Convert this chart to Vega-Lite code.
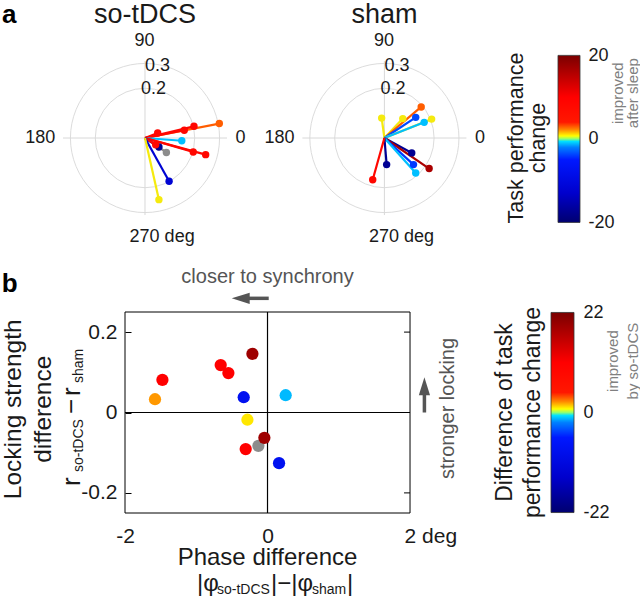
{
  "$schema": "https://vega.github.io/schema/vega-lite/v6.json",
  "padding": {"left": 0, "top": 0, "right": 4, "bottom": 4},
  "autosize": {"type": "pad"},
  "background": "white",
  "bounds": "flush",
  "align": "each",
  "columns": 2,
  "spacing": {"row": 87, "column": 10},
  "config": {"font": "Liberation Sans", "view": {"stroke": null}},
  "datasets": {
    "grid": [{"r": 0.2}, {"r": 0.3}],
    "polarLabels": [
      {"t": "90", "lx": -0.042, "ly": 0.391},
      {"t": "0.3", "lx": 0.0, "ly": 0.291},
      {"t": "0.2", "lx": -0.016, "ly": 0.198},
      {"t": "180", "lx": -0.482, "ly": 0.0},
      {"t": "0", "lx": 0.364, "ly": 0.0},
      {"t": "270 deg", "lx": -0.062, "ly": -0.397}
    ],
    "sotdcs": [
      {"x": 0.299, "y": 0.058, "v": 3.2},
      {"x": 0.197, "y": 0.047, "v": 9},
      {"x": 0.158, "y": 0.031, "v": 9},
      {"x": 0.051, "y": 0.020, "v": 9},
      {"x": 0.148, "y": -0.011, "v": -1.2},
      {"x": 0.194, "y": -0.056, "v": 9},
      {"x": 0.244, "y": -0.067, "v": 9},
      {"x": 0.086, "y": -0.058, "v": null},
      {"x": 0.056, "y": -0.036, "v": -19},
      {"x": 0.043, "y": -0.027, "v": 9},
      {"x": 0.097, "y": -0.174, "v": -13},
      {"x": 0.056, "y": -0.248, "v": 1}
    ],
    "sham": [
      {"x": -0.011, "y": 0.080, "v": 1},
      {"x": 0.074, "y": 0.078, "v": 1},
      {"x": 0.148, "y": 0.125, "v": 3.2},
      {"x": 0.126, "y": 0.083, "v": -4},
      {"x": 0.190, "y": 0.076, "v": 1},
      {"x": 0.160, "y": 0.063, "v": -1.2},
      {"x": 0.110, "y": -0.060, "v": -19},
      {"x": 0.180, "y": -0.123, "v": 18},
      {"x": 0.117, "y": -0.107, "v": -4.5},
      {"x": 0.126, "y": -0.141, "v": -1.2},
      {"x": 0.009, "y": -0.107, "v": -19},
      {"x": -0.047, "y": -0.168, "v": 9}
    ],
    "diff": [
      {"x": -1.475, "y": 0.081, "v": 11},
      {"x": -1.579, "y": 0.033, "v": 2.2},
      {"x": -0.657, "y": 0.118, "v": 11},
      {"x": -0.549, "y": 0.098, "v": 11},
      {"x": -0.212, "y": 0.146, "v": 19},
      {"x": -0.334, "y": 0.038, "v": -8},
      {"x": 0.255, "y": 0.043, "v": -1.3},
      {"x": -0.282, "y": -0.018, "v": 1.1},
      {"x": -0.306, "y": -0.091, "v": 11},
      {"x": -0.128, "y": -0.083, "v": null},
      {"x": -0.044, "y": -0.063, "v": 19},
      {"x": 0.162, "y": -0.126, "v": -8}
    ],
    "rightTicks": [{"t": -0.2}, {"t": 0.2}],
    "cb1": [{"lo": -20, "hi": 20}],
    "cb2": [{"lo": -22, "hi": 22}]
  },
  "concat": [
    {
      "width": 482.7, "height": 174,
      "resolve": {"scale": {"x": "independent"}},
      "layer": [
        {
          "layer": [
            {"data": {"name": "grid"}, "mark": {"type": "point", "filled": false, "color": "#dcdcdc", "strokeWidth": 1, "opacity": 1},
             "encoding": {"x": {"datum": 0, "type": "quantitative", "scale": {"domain": [-0.35, 1.5919], "nice": false, "zero": false}, "axis": null},
                          "y": {"datum": 0, "type": "quantitative", "scale": {"domain": [-0.35, 0.35], "nice": false, "zero": false}, "axis": null},
                          "size": {"field": "r", "type": "quantitative", "scale": {"type": "pow", "exponent": 2, "domain": [0, 0.3], "range": [0, 22240], "zero": true}, "legend": null}}},
            {"data": {"values": [{}]}, "mark": {"type": "rule", "color": "#d8d8d8", "strokeWidth": 1},
             "encoding": {"x": {"datum": -0.33, "type": "quantitative", "scale": {"domain": [-0.35, 1.5919], "nice": false, "zero": false}, "axis": null}, "x2": {"datum": 0.33},
                          "y": {"datum": 0, "type": "quantitative", "scale": {"domain": [-0.35, 0.35], "nice": false, "zero": false}, "axis": null}}},
            {"data": {"values": [{}]}, "mark": {"type": "rule", "color": "#d8d8d8", "strokeWidth": 1},
             "encoding": {"x": {"datum": 0, "type": "quantitative", "scale": {"domain": [-0.35, 1.5919], "nice": false, "zero": false}, "axis": null},
                          "y": {"datum": -0.31, "type": "quantitative", "scale": {"domain": [-0.35, 0.35], "nice": false, "zero": false}, "axis": null}, "y2": {"datum": 0.31}}},
            {"data": {"name": "sotdcs"}, "mark": {"type": "rule", "strokeWidth": 2.2, "invalid": "show"},
             "encoding": {"x": {"field": "x", "type": "quantitative", "scale": {"domain": [-0.35, 1.5919], "nice": false, "zero": false}, "axis": null},
                          "y": {"field": "y", "type": "quantitative", "scale": {"domain": [-0.35, 0.35], "nice": false, "zero": false}, "axis": null},
                          "x2": {"datum": 0}, "y2": {"datum": 0},
                          "color": {"field": "v", "type": "quantitative", "legend": null, "condition": {"test": "datum.v === null", "value": "#8c8c8c"},
                                    "scale": {"domain": [-20,-19,-18,-17,-16,-15,-14,-13,-12,-11,-10,-9,-8,-7,-6,-5,-4,-3,-2,-1,0,1,2,3,4,5,6,7,8,9,10,11,12,13,14,15,16,17,18,19,20],
                                              "range": ["#000070","#00007d","#00008a","#000097","#0000a5","#0000b2","#0000bf","#0000cc","#0003d2","#0006d9","#0009df","#000ce6","#000fec","#0012f2","#0015f9","#0018ff","#003bff","#005dff","#0080ff","#00c5ff","#90ff70","#ffe700","#ff9800","#ff5600","#ff1800","#ff1400","#ff1000","#ff0c00","#ff0800","#ff0400","#ff0000","#f20000","#e40000","#d70000","#ca0000","#bc0000","#af0000","#a20000","#950000","#870000","#7a0000"]}}}},
            {"data": {"name": "sotdcs"}, "mark": {"type": "point", "filled": true, "opacity": 1, "size": 55, "invalid": "show"},
             "encoding": {"x": {"field": "x", "type": "quantitative", "scale": {"domain": [-0.35, 1.5919], "nice": false, "zero": false}, "axis": null},
                          "y": {"field": "y", "type": "quantitative", "scale": {"domain": [-0.35, 0.35], "nice": false, "zero": false}, "axis": null},
                          "color": {"field": "v", "type": "quantitative", "legend": null, "condition": {"test": "datum.v === null", "value": "#8c8c8c"},
                                    "scale": {"domain": [-20,-19,-18,-17,-16,-15,-14,-13,-12,-11,-10,-9,-8,-7,-6,-5,-4,-3,-2,-1,0,1,2,3,4,5,6,7,8,9,10,11,12,13,14,15,16,17,18,19,20],
                                              "range": ["#000070","#00007d","#00008a","#000097","#0000a5","#0000b2","#0000bf","#0000cc","#0003d2","#0006d9","#0009df","#000ce6","#000fec","#0012f2","#0015f9","#0018ff","#003bff","#005dff","#0080ff","#00c5ff","#90ff70","#ffe700","#ff9800","#ff5600","#ff1800","#ff1400","#ff1000","#ff0c00","#ff0800","#ff0400","#ff0000","#f20000","#e40000","#d70000","#ca0000","#bc0000","#af0000","#a20000","#950000","#870000","#7a0000"]}}}},
            {"data": {"name": "polarLabels"}, "mark": {"type": "text", "align": "left", "baseline": "middle", "fontSize": 18, "color": "#1a1a1a"},
             "encoding": {"x": {"field": "lx", "type": "quantitative", "scale": {"domain": [-0.35, 1.5919], "nice": false, "zero": false}, "axis": null},
                          "y": {"field": "ly", "type": "quantitative", "scale": {"domain": [-0.35, 0.35], "nice": false, "zero": false}, "axis": null},
                          "text": {"field": "t"}}},
            {"data": {"values": [{}]}, "mark": {"type": "text", "text": "so-tDCS", "align": "center", "baseline": "middle", "fontSize": 27, "color": "#1a1a1a"},
             "encoding": {"x": {"datum": 0, "type": "quantitative", "scale": {"domain": [-0.35, 1.5919], "nice": false, "zero": false}, "axis": null},
                          "y": {"datum": 0.496, "type": "quantitative", "scale": {"domain": [-0.35, 0.35], "nice": false, "zero": false}, "axis": null}}},
            {"data": {"values": [{}]}, "mark": {"type": "text", "text": "a", "align": "center", "baseline": "middle", "fontSize": 26, "fontWeight": "bold", "color": "#000"},
             "encoding": {"x": {"datum": -0.546, "type": "quantitative", "scale": {"domain": [-0.35, 1.5919], "nice": false, "zero": false}, "axis": null},
                          "y": {"datum": 0.494, "type": "quantitative", "scale": {"domain": [-0.35, 0.35], "nice": false, "zero": false}, "axis": null}}}
          ]
        },
        {
          "layer": [
            {"data": {"name": "grid"}, "mark": {"type": "point", "filled": false, "color": "#dcdcdc", "strokeWidth": 1, "opacity": 1},
             "encoding": {"x": {"datum": 0, "type": "quantitative", "scale": {"domain": [-1.3131, 0.6288], "nice": false, "zero": false}, "axis": null},
                          "y": {"datum": 0, "type": "quantitative", "scale": {"domain": [-0.35, 0.35], "nice": false, "zero": false}, "axis": null},
                          "size": {"field": "r", "type": "quantitative", "scale": {"type": "pow", "exponent": 2, "domain": [0, 0.3], "range": [0, 22240], "zero": true}, "legend": null}}},
            {"data": {"values": [{}]}, "mark": {"type": "rule", "color": "#d8d8d8", "strokeWidth": 1},
             "encoding": {"x": {"datum": -0.33, "type": "quantitative", "scale": {"domain": [-1.3131, 0.6288], "nice": false, "zero": false}, "axis": null}, "x2": {"datum": 0.33},
                          "y": {"datum": 0, "type": "quantitative", "scale": {"domain": [-0.35, 0.35], "nice": false, "zero": false}, "axis": null}}},
            {"data": {"values": [{}]}, "mark": {"type": "rule", "color": "#d8d8d8", "strokeWidth": 1},
             "encoding": {"x": {"datum": 0, "type": "quantitative", "scale": {"domain": [-1.3131, 0.6288], "nice": false, "zero": false}, "axis": null},
                          "y": {"datum": -0.31, "type": "quantitative", "scale": {"domain": [-0.35, 0.35], "nice": false, "zero": false}, "axis": null}, "y2": {"datum": 0.31}}},
            {"data": {"name": "sham"}, "mark": {"type": "rule", "strokeWidth": 2.2, "invalid": "show"},
             "encoding": {"x": {"field": "x", "type": "quantitative", "scale": {"domain": [-1.3131, 0.6288], "nice": false, "zero": false}, "axis": null},
                          "y": {"field": "y", "type": "quantitative", "scale": {"domain": [-0.35, 0.35], "nice": false, "zero": false}, "axis": null},
                          "x2": {"datum": 0}, "y2": {"datum": 0},
                          "color": {"field": "v", "type": "quantitative", "legend": null, "condition": {"test": "datum.v === null", "value": "#8c8c8c"},
                                    "scale": {"domain": [-20,-19,-18,-17,-16,-15,-14,-13,-12,-11,-10,-9,-8,-7,-6,-5,-4,-3,-2,-1,0,1,2,3,4,5,6,7,8,9,10,11,12,13,14,15,16,17,18,19,20],
                                              "range": ["#000070","#00007d","#00008a","#000097","#0000a5","#0000b2","#0000bf","#0000cc","#0003d2","#0006d9","#0009df","#000ce6","#000fec","#0012f2","#0015f9","#0018ff","#003bff","#005dff","#0080ff","#00c5ff","#90ff70","#ffe700","#ff9800","#ff5600","#ff1800","#ff1400","#ff1000","#ff0c00","#ff0800","#ff0400","#ff0000","#f20000","#e40000","#d70000","#ca0000","#bc0000","#af0000","#a20000","#950000","#870000","#7a0000"]}}}},
            {"data": {"name": "sham"}, "mark": {"type": "point", "filled": true, "opacity": 1, "size": 55, "invalid": "show"},
             "encoding": {"x": {"field": "x", "type": "quantitative", "scale": {"domain": [-1.3131, 0.6288], "nice": false, "zero": false}, "axis": null},
                          "y": {"field": "y", "type": "quantitative", "scale": {"domain": [-0.35, 0.35], "nice": false, "zero": false}, "axis": null},
                          "color": {"field": "v", "type": "quantitative", "legend": null, "condition": {"test": "datum.v === null", "value": "#8c8c8c"},
                                    "scale": {"domain": [-20,-19,-18,-17,-16,-15,-14,-13,-12,-11,-10,-9,-8,-7,-6,-5,-4,-3,-2,-1,0,1,2,3,4,5,6,7,8,9,10,11,12,13,14,15,16,17,18,19,20],
                                              "range": ["#000070","#00007d","#00008a","#000097","#0000a5","#0000b2","#0000bf","#0000cc","#0003d2","#0006d9","#0009df","#000ce6","#000fec","#0012f2","#0015f9","#0018ff","#003bff","#005dff","#0080ff","#00c5ff","#90ff70","#ffe700","#ff9800","#ff5600","#ff1800","#ff1400","#ff1000","#ff0c00","#ff0800","#ff0400","#ff0000","#f20000","#e40000","#d70000","#ca0000","#bc0000","#af0000","#a20000","#950000","#870000","#7a0000"]}}}},
            {"data": {"name": "polarLabels"}, "mark": {"type": "text", "align": "left", "baseline": "middle", "fontSize": 18, "color": "#1a1a1a"},
             "encoding": {"x": {"field": "lx", "type": "quantitative", "scale": {"domain": [-1.3131, 0.6288], "nice": false, "zero": false}, "axis": null},
                          "y": {"field": "ly", "type": "quantitative", "scale": {"domain": [-0.35, 0.35], "nice": false, "zero": false}, "axis": null},
                          "text": {"field": "t"}}},
            {"data": {"values": [{}]}, "mark": {"type": "text", "text": "sham", "align": "center", "baseline": "middle", "fontSize": 27, "color": "#1a1a1a"},
             "encoding": {"x": {"datum": 0, "type": "quantitative", "scale": {"domain": [-1.3131, 0.6288], "nice": false, "zero": false}, "axis": null},
                          "y": {"datum": 0.496, "type": "quantitative", "scale": {"domain": [-0.35, 0.35], "nice": false, "zero": false}, "axis": null}}}
          ]
        }
      ]
    },
    {
      "width": 29, "height": 174,
      "resolve": {"axis": {"y": "independent"}},
      "layer": [
        {"data": {"name": "cb1"},
         "mark": {"type": "rect", "stroke": "#333", "strokeWidth": 0.8,
                  "fill": {"gradient": "linear", "x1": 0, "y1": 1, "x2": 0, "y2": 0, "stops": [
                    {"offset": 0, "color": "#000070"}, {"offset": 0.175, "color": "#0000cc"}, {"offset": 0.375, "color": "#0018ff"}, {"offset": 0.45, "color": "#0080ff"},
                    {"offset": 0.485, "color": "#00e0ff"}, {"offset": 0.5, "color": "#90ff70"}, {"offset": 0.5175, "color": "#ffff00"}, {"offset": 0.555, "color": "#ff8800"},
                    {"offset": 0.6, "color": "#ff1800"}, {"offset": 0.75, "color": "#ff0000"}, {"offset": 1, "color": "#7a0000"}]}},
         "encoding": {"x": {"datum": 0, "type": "quantitative", "scale": {"domain": [-0.318, 1], "nice": false, "zero": false}, "axis": null}, "x2": {"datum": 1},
                      "y": {"field": "lo", "type": "quantitative", "scale": {"domain": [-20.62, 21.05], "nice": false, "zero": false},
                            "axis": {"orient": "right", "values": [-20, 0, 20], "domain": false, "ticks": false, "grid": false, "title": null, "labelFontSize": 18, "labelPadding": 8, "labelColor": "#1a1a1a",
                                     "labelExpr": "datum.value < 0 ? '-' + abs(datum.value) : '' + datum.value"}},
                      "y2": {"field": "hi"}}},
        {"data": {"values": [{}]}, "mark": {"type": "text", "text": "Task performance", "angle": 270, "align": "center", "baseline": "middle", "fontSize": 21.5, "color": "#1a1a1a"},
         "encoding": {"x": {"datum": -1.86, "type": "quantitative", "scale": {"domain": [-0.318, 1], "nice": false, "zero": false}, "axis": null},
                      "y": {"datum": 0.2, "type": "quantitative", "scale": {"domain": [-20.62, 21.05], "nice": false, "zero": false}, "axis": null}}},
        {"data": {"values": [{}]}, "mark": {"type": "text", "text": "change", "angle": 270, "align": "center", "baseline": "middle", "fontSize": 21.5, "color": "#1a1a1a"},
         "encoding": {"x": {"datum": -0.86, "type": "quantitative", "scale": {"domain": [-0.318, 1], "nice": false, "zero": false}, "axis": null},
                      "y": {"datum": 0.2, "type": "quantitative", "scale": {"domain": [-20.62, 21.05], "nice": false, "zero": false}, "axis": null}}},
        {"data": {"values": [{}]}, "mark": {"type": "text", "text": "improved", "angle": 270, "align": "center", "baseline": "middle", "fontSize": 15, "color": "#808080"},
         "encoding": {"x": {"datum": 2.73, "type": "quantitative", "scale": {"domain": [-0.318, 1], "nice": false, "zero": false}, "axis": null},
                      "y": {"datum": 10.95, "type": "quantitative", "scale": {"domain": [-20.62, 21.05], "nice": false, "zero": false}, "axis": null}}},
        {"data": {"values": [{}]}, "mark": {"type": "text", "text": "after sleep", "angle": 270, "align": "center", "baseline": "middle", "fontSize": 15, "color": "#808080"},
         "encoding": {"x": {"datum": 3.41, "type": "quantitative", "scale": {"domain": [-0.318, 1], "nice": false, "zero": false}, "axis": null},
                      "y": {"datum": 10.95, "type": "quantitative", "scale": {"domain": [-20.62, 21.05], "nice": false, "zero": false}, "axis": null}}}
      ]
    },
    {
      "width": 482.7, "height": 201,
      "resolve": {"axis": {"x": "independent", "y": "independent"}},
      "layer": [
        {"data": {"values": [{}]}, "mark": {"type": "rect", "filled": false, "color": "#000", "strokeWidth": 1},
         "encoding": {"x": {"datum": -2, "type": "quantitative", "scale": {"domain": [-2.9403, 3.834], "nice": false, "zero": false}, "axis": null}, "x2": {"datum": 2},
                      "y": {"datum": -0.25, "type": "quantitative", "scale": {"domain": [-0.25, 0.25], "nice": false, "zero": false}, "axis": null}, "y2": {"datum": 0.25}}},
        {"data": {"values": [{}]}, "mark": {"type": "rule", "color": "#000", "strokeWidth": 1.2},
         "encoding": {"x": {"datum": 0, "type": "quantitative", "scale": {"domain": [-2.9403, 3.834], "nice": false, "zero": false}, "axis": null},
                      "y": {"datum": -0.25, "type": "quantitative", "scale": {"domain": [-0.25, 0.25], "nice": false, "zero": false}, "axis": null}, "y2": {"datum": 0.25}}},
        {"data": {"values": [{}]}, "mark": {"type": "rule", "color": "#000", "strokeWidth": 1.2},
         "encoding": {"x": {"datum": -2, "type": "quantitative", "scale": {"domain": [-2.9403, 3.834], "nice": false, "zero": false}, "axis": null}, "x2": {"datum": 2},
                      "y": {"datum": 0, "type": "quantitative", "scale": {"domain": [-0.25, 0.25], "nice": false, "zero": false}, "axis": null}}},
        {"data": {"name": "rightTicks"}, "mark": {"type": "rule", "color": "#000", "strokeWidth": 1},
         "encoding": {"x": {"datum": 1.916, "type": "quantitative", "scale": {"domain": [-2.9403, 3.834], "nice": false, "zero": false}, "axis": null}, "x2": {"datum": 2},
                      "y": {"field": "t", "type": "quantitative", "scale": {"domain": [-0.25, 0.25], "nice": false, "zero": false}, "axis": null}}},
        {"data": {"name": "diff"}, "mark": {"type": "point", "filled": true, "opacity": 1, "size": 150, "invalid": "show"},
         "encoding": {"x": {"field": "x", "type": "quantitative", "scale": {"domain": [-2.9403, 3.834], "nice": false, "zero": false},
                            "axis": {"values": [-2, 0, 2], "domain": false, "ticks": false, "grid": false, "title": null, "labelFontSize": 21, "labelPadding": 12, "labelColor": "#1a1a1a", "labelFlush": false,
                                     "labelExpr": "datum.value == 2 ? '2 deg' : datum.value == -2 ? '-2' : '0'",
                                     "labelAlign": {"condition": {"test": "datum.value == 2", "value": "left"}, "value": "center"},
                                     "labelOffset": {"condition": {"test": "datum.value == 2", "value": -6}, "value": 0}}},
                      "y": {"field": "y", "type": "quantitative", "scale": {"domain": [-0.25, 0.25], "nice": false, "zero": false},
                            "axis": {"values": [-0.2, 0, 0.2], "offset": -67, "domain": false, "tickSize": -6, "tickColor": "#000", "grid": false, "title": null, "labelFontSize": 21, "labelPadding": 14, "labelColor": "#1a1a1a",
                                     "labelExpr": "datum.value == -0.2 ? '-0.2' : datum.value == 0 ? '0' : '0.2'"}},
                      "color": {"field": "v", "type": "quantitative", "legend": null, "condition": {"test": "datum.v === null", "value": "#8c8c8c"},
                                "scale": {"domain": [-22,-20.9,-19.8,-18.7,-17.6,-16.5,-15.4,-14.3,-13.2,-12.1,-11,-9.9,-8.8,-7.7,-6.6,-5.5,-4.4,-3.3,-2.2,-1.1,0,1.1,2.2,3.3,4.4,5.5,6.6,7.7,8.8,9.9,11,12.1,13.2,14.3,15.4,16.5,17.6,18.7,19.8,20.9,22],
                                          "range": ["#000070","#00007d","#00008a","#000097","#0000a5","#0000b2","#0000bf","#0000cc","#0003d2","#0006d9","#0009df","#000ce6","#000fec","#0012f2","#0015f9","#0018ff","#003bff","#005dff","#0080ff","#00c5ff","#90ff70","#ffe700","#ff9800","#ff5600","#ff1800","#ff1400","#ff1000","#ff0c00","#ff0800","#ff0400","#ff0000","#f20000","#e40000","#d70000","#ca0000","#bc0000","#af0000","#a20000","#950000","#870000","#7a0000"]}}}},
        {"data": {"values": [{}]}, "mark": {"type": "rule", "color": "#555", "strokeWidth": 3.5},
         "encoding": {"x": {"datum": -0.30, "type": "quantitative", "scale": {"domain": [-2.9403, 3.834], "nice": false, "zero": false}, "axis": null}, "x2": {"datum": 0.017},
                      "y": {"datum": 0.284, "type": "quantitative", "scale": {"domain": [-0.25, 0.25], "nice": false, "zero": false}, "axis": null}}},
        {"data": {"values": [{}]}, "mark": {"type": "point", "shape": "M -1 0 L 1 -0.62 L 1 0.62 Z", "filled": true, "color": "#555", "size": 324, "opacity": 1},
         "encoding": {"x": {"datum": -0.376, "type": "quantitative", "scale": {"domain": [-2.9403, 3.834], "nice": false, "zero": false}, "axis": null},
                      "y": {"datum": 0.284, "type": "quantitative", "scale": {"domain": [-0.25, 0.25], "nice": false, "zero": false}, "axis": null}}},
        {"data": {"values": [{}]}, "mark": {"type": "rule", "color": "#555", "strokeWidth": 3.5},
         "encoding": {"x": {"datum": 2.202, "type": "quantitative", "scale": {"domain": [-2.9403, 3.834], "nice": false, "zero": false}, "axis": null},
                      "y": {"datum": 0.0, "type": "quantitative", "scale": {"domain": [-0.25, 0.25], "nice": false, "zero": false}, "axis": null}, "y2": {"datum": 0.055}}},
        {"data": {"values": [{}]}, "mark": {"type": "point", "shape": "M 0 -1 L -0.62 1 L 0.62 1 Z", "filled": true, "color": "#555", "size": 324, "opacity": 1},
         "encoding": {"x": {"datum": 2.202, "type": "quantitative", "scale": {"domain": [-2.9403, 3.834], "nice": false, "zero": false}, "axis": null},
                      "y": {"datum": 0.065, "type": "quantitative", "scale": {"domain": [-0.25, 0.25], "nice": false, "zero": false}, "axis": null}}},
        {"data": {"values": [{}]}, "mark": {"type": "text", "text": "closer to synchrony", "align": "center", "baseline": "middle", "fontSize": 20, "color": "#555"},
         "encoding": {"x": {"datum": 0, "type": "quantitative", "scale": {"domain": [-2.9403, 3.834], "nice": false, "zero": false}, "axis": null},
                      "y": {"datum": 0.337, "type": "quantitative", "scale": {"domain": [-0.25, 0.25], "nice": false, "zero": false}, "axis": null}}},
        {"data": {"values": [{}]}, "mark": {"type": "text", "text": "stronger locking", "angle": 270, "align": "center", "baseline": "middle", "fontSize": 20, "color": "#555"},
         "encoding": {"x": {"datum": 2.53, "type": "quantitative", "scale": {"domain": [-2.9403, 3.834], "nice": false, "zero": false}, "axis": null},
                      "y": {"datum": 0.01, "type": "quantitative", "scale": {"domain": [-0.25, 0.25], "nice": false, "zero": false}, "axis": null}}},
        {"data": {"values": [{}]}, "mark": {"type": "text", "text": "b", "align": "center", "baseline": "middle", "fontSize": 26, "fontWeight": "bold", "color": "#000"},
         "encoding": {"x": {"datum": -3.618, "type": "quantitative", "scale": {"domain": [-2.9403, 3.834], "nice": false, "zero": false}, "axis": null},
                      "y": {"datum": 0.319, "type": "quantitative", "scale": {"domain": [-0.25, 0.25], "nice": false, "zero": false}, "axis": null}}},
        {"data": {"values": [{}]}, "mark": {"type": "text", "text": "Locking strength", "angle": 270, "align": "center", "baseline": "middle", "fontSize": 24.5, "color": "#1a1a1a"},
         "encoding": {"x": {"datum": -3.562, "type": "quantitative", "scale": {"domain": [-2.9403, 3.834], "nice": false, "zero": false}, "axis": null},
                      "y": {"datum": 0.008, "type": "quantitative", "scale": {"domain": [-0.25, 0.25], "nice": false, "zero": false}, "axis": null}}},
        {"data": {"values": [{}]}, "mark": {"type": "text", "text": "difference", "angle": 270, "align": "center", "baseline": "middle", "fontSize": 24.5, "color": "#1a1a1a"},
         "encoding": {"x": {"datum": -3.141, "type": "quantitative", "scale": {"domain": [-2.9403, 3.834], "nice": false, "zero": false}, "axis": null},
                      "y": {"datum": 0.008, "type": "quantitative", "scale": {"domain": [-0.25, 0.25], "nice": false, "zero": false}, "axis": null}}},
        {"data": {"values": [{}]}, "mark": {"type": "text", "text": "r", "angle": 270, "align": "left", "baseline": "alphabetic", "fontSize": 26, "color": "#1a1a1a", "dx": 0},
         "encoding": {"x": {"datum": -2.636, "type": "quantitative", "scale": {"domain": [-2.9403, 3.834], "nice": false, "zero": false}, "axis": null},
                      "y": {"datum": -0.183, "type": "quantitative", "scale": {"domain": [-0.25, 0.25], "nice": false, "zero": false}, "axis": null}}},
        {"data": {"values": [{}]}, "mark": {"type": "text", "text": "so-tDCS", "angle": 270, "align": "left", "baseline": "alphabetic", "fontSize": 14, "color": "#1a1a1a", "dx": 14, "dy": 3},
         "encoding": {"x": {"datum": -2.636, "type": "quantitative", "scale": {"domain": [-2.9403, 3.834], "nice": false, "zero": false}, "axis": null},
                      "y": {"datum": -0.183, "type": "quantitative", "scale": {"domain": [-0.25, 0.25], "nice": false, "zero": false}, "axis": null}}},
        {"data": {"values": [{}]}, "mark": {"type": "text", "text": "−", "angle": 270, "align": "left", "baseline": "alphabetic", "fontSize": 26, "color": "#1a1a1a", "dx": 72},
         "encoding": {"x": {"datum": -2.636, "type": "quantitative", "scale": {"domain": [-2.9403, 3.834], "nice": false, "zero": false}, "axis": null},
                      "y": {"datum": -0.183, "type": "quantitative", "scale": {"domain": [-0.25, 0.25], "nice": false, "zero": false}, "axis": null}}},
        {"data": {"values": [{}]}, "mark": {"type": "text", "text": "r", "angle": 270, "align": "left", "baseline": "alphabetic", "fontSize": 26, "color": "#1a1a1a", "dx": 90},
         "encoding": {"x": {"datum": -2.636, "type": "quantitative", "scale": {"domain": [-2.9403, 3.834], "nice": false, "zero": false}, "axis": null},
                      "y": {"datum": -0.183, "type": "quantitative", "scale": {"domain": [-0.25, 0.25], "nice": false, "zero": false}, "axis": null}}},
        {"data": {"values": [{}]}, "mark": {"type": "text", "text": "sham", "angle": 270, "align": "left", "baseline": "alphabetic", "fontSize": 14, "color": "#1a1a1a", "dx": 103, "dy": 3},
         "encoding": {"x": {"datum": -2.636, "type": "quantitative", "scale": {"domain": [-2.9403, 3.834], "nice": false, "zero": false}, "axis": null},
                      "y": {"datum": -0.183, "type": "quantitative", "scale": {"domain": [-0.25, 0.25], "nice": false, "zero": false}, "axis": null}}},
        {"data": {"values": [{}]}, "mark": {"type": "text", "text": "Phase difference", "align": "center", "baseline": "alphabetic", "fontSize": 24, "color": "#1a1a1a"},
         "encoding": {"x": {"datum": 0, "type": "quantitative", "scale": {"domain": [-2.9403, 3.834], "nice": false, "zero": false}, "axis": null},
                      "y": {"datum": -0.38, "type": "quantitative", "scale": {"domain": [-0.25, 0.25], "nice": false, "zero": false}, "axis": null}}},
        {"data": {"values": [{}]}, "mark": {"type": "text", "text": "|φ", "align": "left", "baseline": "alphabetic", "fontSize": 24, "color": "#1a1a1a", "dx": 0},
         "encoding": {"x": {"datum": -0.99, "type": "quantitative", "scale": {"domain": [-2.9403, 3.834], "nice": false, "zero": false}, "axis": null},
                      "y": {"datum": -0.4445, "type": "quantitative", "scale": {"domain": [-0.25, 0.25], "nice": false, "zero": false}, "axis": null}}},
        {"data": {"values": [{}]}, "mark": {"type": "text", "text": "so-tDCS", "align": "left", "baseline": "alphabetic", "fontSize": 14, "color": "#1a1a1a", "dx": 20, "dy": 3},
         "encoding": {"x": {"datum": -0.99, "type": "quantitative", "scale": {"domain": [-2.9403, 3.834], "nice": false, "zero": false}, "axis": null},
                      "y": {"datum": -0.4445, "type": "quantitative", "scale": {"domain": [-0.25, 0.25], "nice": false, "zero": false}, "axis": null}}},
        {"data": {"values": [{}]}, "mark": {"type": "text", "text": "|−|φ", "align": "left", "baseline": "alphabetic", "fontSize": 24, "color": "#1a1a1a", "dx": 74},
         "encoding": {"x": {"datum": -0.99, "type": "quantitative", "scale": {"domain": [-2.9403, 3.834], "nice": false, "zero": false}, "axis": null},
                      "y": {"datum": -0.4445, "type": "quantitative", "scale": {"domain": [-0.25, 0.25], "nice": false, "zero": false}, "axis": null}}},
        {"data": {"values": [{}]}, "mark": {"type": "text", "text": "sham", "align": "left", "baseline": "alphabetic", "fontSize": 14, "color": "#1a1a1a", "dx": 115, "dy": 3},
         "encoding": {"x": {"datum": -0.99, "type": "quantitative", "scale": {"domain": [-2.9403, 3.834], "nice": false, "zero": false}, "axis": null},
                      "y": {"datum": -0.4445, "type": "quantitative", "scale": {"domain": [-0.25, 0.25], "nice": false, "zero": false}, "axis": null}}},
        {"data": {"values": [{}]}, "mark": {"type": "text", "text": "|", "align": "left", "baseline": "alphabetic", "fontSize": 24, "color": "#1a1a1a", "dx": 150},
         "encoding": {"x": {"datum": -0.99, "type": "quantitative", "scale": {"domain": [-2.9403, 3.834], "nice": false, "zero": false}, "axis": null},
                      "y": {"datum": -0.4445, "type": "quantitative", "scale": {"domain": [-0.25, 0.25], "nice": false, "zero": false}, "axis": null}}}
      ]
    },
    {
      "width": 23, "height": 201,
      "resolve": {"axis": {"y": "independent"}},
      "layer": [
        {"data": {"name": "cb2"},
         "mark": {"type": "rect", "stroke": "#333", "strokeWidth": 0.8,
                  "fill": {"gradient": "linear", "x1": 0, "y1": 1, "x2": 0, "y2": 0, "stops": [
                    {"offset": 0, "color": "#000070"}, {"offset": 0.175, "color": "#0000cc"}, {"offset": 0.375, "color": "#0018ff"}, {"offset": 0.45, "color": "#0080ff"},
                    {"offset": 0.485, "color": "#00e0ff"}, {"offset": 0.5, "color": "#90ff70"}, {"offset": 0.5175, "color": "#ffff00"}, {"offset": 0.555, "color": "#ff8800"},
                    {"offset": 0.6, "color": "#ff1800"}, {"offset": 0.75, "color": "#ff0000"}, {"offset": 1, "color": "#7a0000"}]}},
         "encoding": {"x": {"datum": 0, "type": "quantitative", "scale": {"domain": [0, 1], "nice": false, "zero": false}, "axis": null}, "x2": {"datum": 1},
                      "y": {"field": "lo", "type": "quantitative", "scale": {"domain": [-22.1, 22.1], "nice": false, "zero": false},
                            "axis": {"orient": "right", "values": [-22, 0, 22], "domain": false, "ticks": false, "grid": false, "title": null, "labelFontSize": 18, "labelPadding": 9, "labelColor": "#1a1a1a",
                                     "labelExpr": "datum.value < 0 ? '-' + abs(datum.value) : '' + datum.value"}},
                      "y2": {"field": "hi"}}},
        {"data": {"values": [{}]}, "mark": {"type": "text", "text": "Difference of task", "angle": 270, "align": "center", "baseline": "middle", "fontSize": 23, "color": "#1a1a1a"},
         "encoding": {"x": {"datum": -1.98, "type": "quantitative", "scale": {"domain": [0, 1], "nice": false, "zero": false}, "axis": null},
                      "y": {"datum": 0, "type": "quantitative", "scale": {"domain": [-22.1, 22.1], "nice": false, "zero": false}, "axis": null}}},
        {"data": {"values": [{}]}, "mark": {"type": "text", "text": "performance change", "angle": 270, "align": "center", "baseline": "middle", "fontSize": 23, "color": "#1a1a1a"},
         "encoding": {"x": {"datum": -0.80, "type": "quantitative", "scale": {"domain": [0, 1], "nice": false, "zero": false}, "axis": null},
                      "y": {"datum": 0, "type": "quantitative", "scale": {"domain": [-22.1, 22.1], "nice": false, "zero": false}, "axis": null}}},
        {"data": {"values": [{}]}, "mark": {"type": "text", "text": "improved", "angle": 270, "align": "center", "baseline": "middle", "fontSize": 15, "color": "#808080"},
         "encoding": {"x": {"datum": 2.70, "type": "quantitative", "scale": {"domain": [0, 1], "nice": false, "zero": false}, "axis": null},
                      "y": {"datum": 11.3, "type": "quantitative", "scale": {"domain": [-22.1, 22.1], "nice": false, "zero": false}, "axis": null}}},
        {"data": {"values": [{}]}, "mark": {"type": "text", "text": "by so-tDCS", "angle": 270, "align": "center", "baseline": "middle", "fontSize": 15, "color": "#808080"},
         "encoding": {"x": {"datum": 3.57, "type": "quantitative", "scale": {"domain": [0, 1], "nice": false, "zero": false}, "axis": null},
                      "y": {"datum": 11.3, "type": "quantitative", "scale": {"domain": [-22.1, 22.1], "nice": false, "zero": false}, "axis": null}}}
      ]
    }
  ]
}
